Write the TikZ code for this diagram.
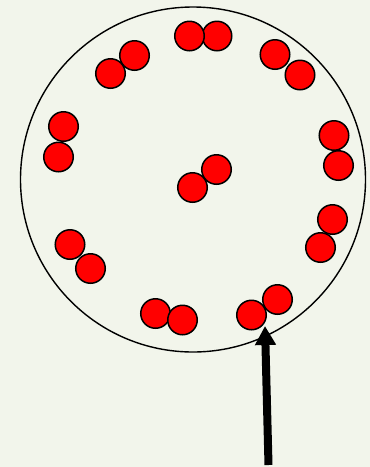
\documentclass[tikz,border=0pt]{standalone}
\usetikzlibrary{arrows.meta}
\definecolor{bgc}{RGB}{242,245,235}
\begin{document}
\begin{tikzpicture}[x=1pt,y=-1pt,
  ball/.style={circle,draw=black,fill=red,line width=1.5pt,minimum size=29.5pt,inner sep=0pt}]
\fill[bgc] (0,0) rectangle (370,467);
\useasboundingbox (0,0) rectangle (370,467);
\node[circle,draw=black,line width=1.4pt,minimum size=345pt,inner sep=0pt] (ring) at (193,179.5) {};
% pairs (first drawn underneath)
\node[ball] (a2) at (217,36) {};
\node[ball] (a1) at (189.5,36) {};
\node[ball] (b1) at (134.5,55.5) {};
\node[ball] (b2) at (110.5,73.5) {};
\node[ball] (c1) at (275,54.5) {};
\node[ball] (c2) at (300,75) {};
\node[ball] (d1) at (63.5,126.5) {};
\node[ball] (d2) at (58.5,157) {};
\node[ball] (e1) at (334,135.5) {};
\node[ball] (e2) at (338.5,165.5) {};
\node[ball] (f1) at (216.5,169.5) {};
\node[ball] (f2) at (192.5,187.5) {};
\node[ball] (g1) at (332.5,219.5) {};
\node[ball] (g2) at (320.5,247.5) {};
\node[ball] (h1) at (70,244.5) {};
\node[ball] (h2) at (90.5,268.5) {};
\node[ball] (i1) at (155.5,313.5) {};
\node[ball] (i2) at (182.5,320) {};
\node[ball] (j1) at (251.5,315) {};
\node[ball] (j2) at (277.5,299.5) {};
\coordinate (tail) at (268.5,465);
\coordinate (tip) at (265,326);
\draw[line width=8pt,-{Triangle[length=19pt,width=20pt]}] (tail) -- (tip);
\end{tikzpicture}
\end{document}
